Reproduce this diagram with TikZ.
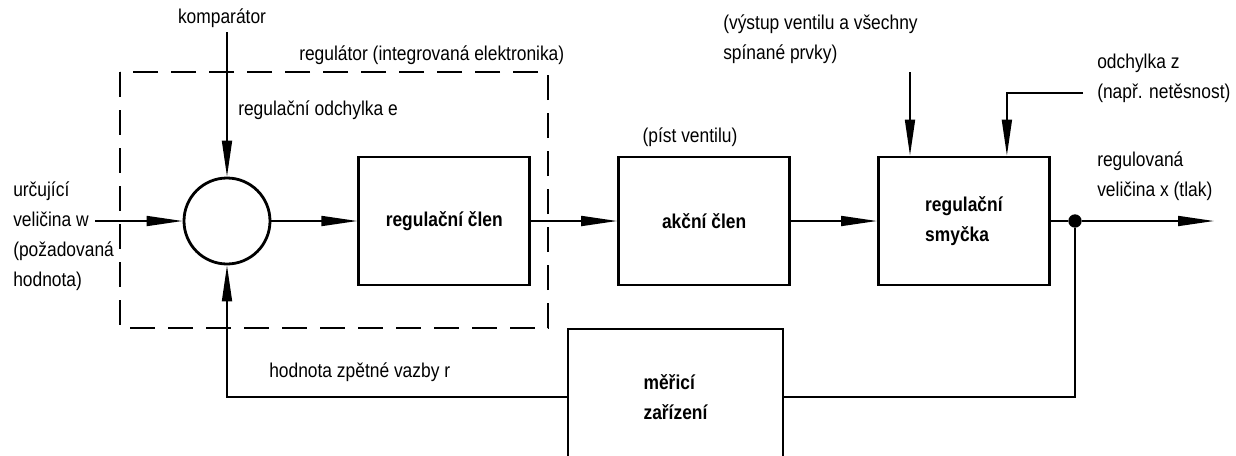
\documentclass[tikz,border=0pt]{standalone}
\usepackage{fontspec}
\setmainfont{Liberation Sans}[FakeStretch=0.87]
\usetikzlibrary{arrows.meta, positioning}

\begin{document}
\begin{tikzpicture}[
    x=0.75pt, y=-0.75pt,
    every node/.style={font=\fontsize{15}{22.5}\selectfont},
    block/.style={draw, line width=2.1pt, minimum width=128.25pt, minimum height=96pt,
                  align=left, font=\fontsize{15}{22.5}\selectfont\bfseries},
    sum/.style={draw, circle, line width=2.1pt, minimum size=64.5pt, inner sep=0pt},
    dot/.style={circle, fill, inner sep=0pt, minimum size=10pt},
    txt/.style={anchor=west, align=left, inner sep=0pt},
    wire/.style={line width=1.3pt},
    sig/.style={line width=1.3pt, -{Triangle[length=27pt, width=7.5pt]}},
    regbox/.style={line width=1.1pt, dash pattern=on 18.75pt off 9.75pt},
    node distance=64.5pt
  ]
  \useasboundingbox (0,0) rectangle (1236,455);

  % Forward path
  \node[sum] (comp) at (227,221) {};
  \node[block, right=of comp] (ctrl) {regulační člen};
  \node[block, right=of ctrl] (act) {akční člen};
  \node[block, right=of act] (loop) {regulační\\smyčka};

  % Measuring device (cut off at the bottom)
  \node[block, minimum width=161.25pt, minimum height=102pt] (meas) at (675.5,397) {měřicí\\zařízení};

  % Controller frame
  \draw[regbox] (120,72) rectangle (548,328);

  % Points
  \coordinate (w) at (95,221);
  \node[dot] (tap) at (1075,221) {};
  \coordinate (x) at (1214,221);
  \coordinate (d1) at (910,72);
  \coordinate (d2) at (1083,93);

  % Labels
  \node (cmp) at (222,18) {komparátor};
  \node[txt] (reglbl) at (299,55) {regulátor (integrovaná elektronika)};
  \node[txt] (elbl) at (238,110) {regulační odchylka e};
  \node[txt] (wlbl) at (13,236) {určující\\veličina w\\(požadovaná\\hodnota)};
  \node (plbl) at (690,137) {(píst ventilu)};
  \node[txt] (dlbl) at (723,39) {(výstup ventilu a všechny\\spínané prvky)};
  \node[txt] (zlbl) at (1097,78) {odchylka z\\(např. netěsnost)};
  \node[txt] (xlbl) at (1097,176) {regulovaná\\veličina x (tlak)};
  \node[txt] (rlbl) at (269,372) {hodnota zpětné vazby r};

  % Arrows
  \draw[sig] (w) -- (comp);
  \draw[sig] (comp |- cmp.south) -- (comp);
  \draw[sig] (comp) -- (ctrl);
  \draw[sig] (ctrl) -- (act);
  \draw[sig] (act) -- (loop);
  \draw[sig] (d1) -- (loop.north -| d1);
  \draw[sig] (d2) -| ([xshift=32.25pt]loop.north);
  \draw[wire] (loop) -- (tap);
  \draw[sig] (tap) -- (x);

  % Feedback
  \draw[wire] (tap) |- (meas);
  \draw[sig] (meas) -| (comp);
\end{tikzpicture}
\end{document}
